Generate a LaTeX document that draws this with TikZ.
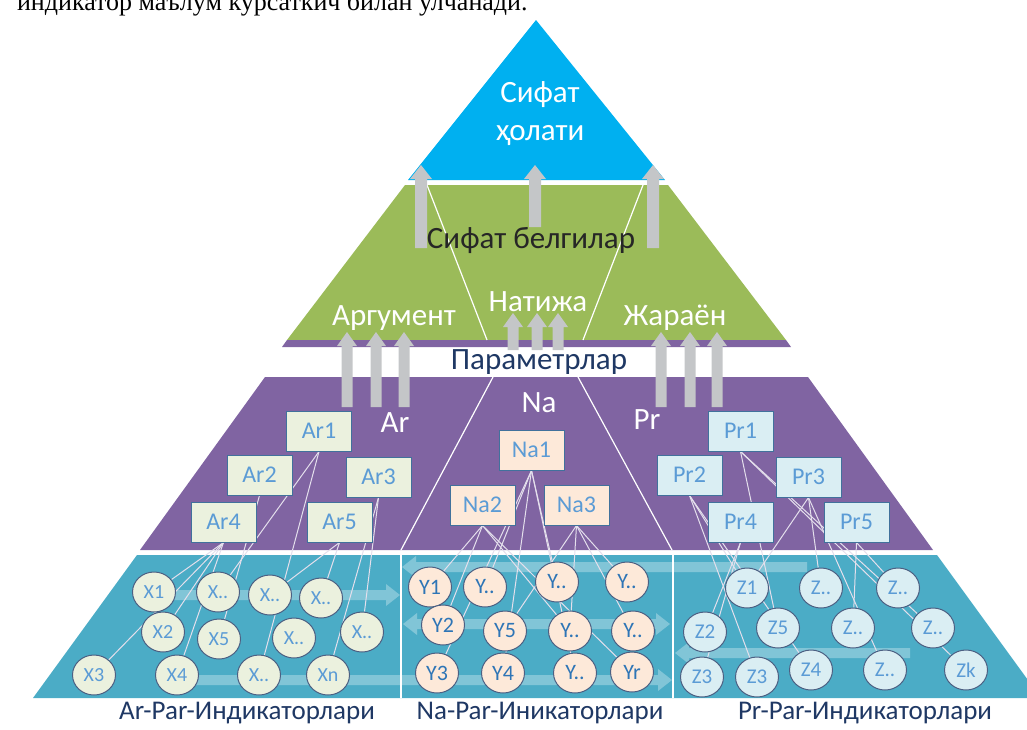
\documentclass[tikz,border=0pt]{standalone}
\usepackage{fontspec}
\setmainfont{Carlito}
\newfontfamily\introfont{Liberation Serif}
\usetikzlibrary{shapes.geometric}
\definecolor{topblue}{HTML}{00B0F0}
\definecolor{leafgreen}{HTML}{9BBB59}
\definecolor{parpurple}{HTML}{8064A2}
\definecolor{indteal}{HTML}{4BACC6}
\definecolor{boxedge}{HTML}{41719C}
\definecolor{boxtext}{HTML}{5B9BD5}
\definecolor{ytext}{HTML}{2E75B6}
\definecolor{navy}{HTML}{1F3864}
\definecolor{darktext}{HTML}{262626}
\definecolor{upgray}{HTML}{C4C6C8}
\definecolor{linklav}{HTML}{E4DFEC}
\definecolor{argfill}{HTML}{EBF1DE}
\definecolor{natfill}{HTML}{FDE9D9}
\definecolor{profill}{HTML}{DAEEF3}
\pgfdeclarelayer{bg}
\pgfsetlayers{bg,main}
\tikzset{basic/.style={draw=boxedge,line width=0.5pt,text=boxtext,inner sep=0pt,
                       font=\fontsize{12}{14}\selectfont}}
\tikzset{param/.style={basic,rectangle,minimum width=32.5pt,minimum height=20pt}}
\tikzset{indic/.style={basic,ellipse,draw=navy!80,minimum width=21.5pt,minimum height=20pt,
                       font=\fontsize{10}{12}\selectfont}}
\tikzset{link/.style={draw=linklav,line width=0.5pt}}
\tikzset{divide/.style={draw=white,line width=0.6pt}}
\tikzset{uparrow/.style={fill=upgray}}
\tikzset{flow/.style={fill=white,fill opacity=0.3}}
\tikzset{bigtext/.style={font=\fontsize{15.5}{18}\selectfont}}
\tikzset{foot/.style={text=navy,font=\fontsize{13.5}{16}\selectfont}}

\begin{document}
\begin{tikzpicture}[x=0.5pt,y=-0.5pt]
    \useasboundingbox (0,0) rectangle (1027,729);
    \node[anchor=base east,inner sep=0pt,font=\introfont\fontsize{13}{15}\selectfont] (intro)
        at (528,10) {индикатор маълум курсаткич билан улчанади.};

    % layers of the pyramid
    \begin{pgfonlayer}{bg}
    \fill[topblue] (536,20) -- (665,180) -- (408,180) -- cycle;
    \fill[leafgreen] (405,185) -- (668,185) -- (786,340) -- (287,340) -- cycle;
    \fill[parpurple] (287,340) -- (786,340) -- (791,347) -- (282,347) -- cycle;
    \fill[parpurple] (265,377) -- (808,377) -- (933,550) -- (140,550) -- cycle;
    \fill[indteal] (137,555) -- (937,555) -- (1041,698) -- (33,698) -- cycle;
    \draw[divide] (427,185) -- (487,340);
    \draw[divide] (643,185) -- (583,340);
    \draw[divide] (493,377) -- (401,550);
    \draw[divide] (578,377) -- (672,550);
    \draw[divide] (401,555) -- (401,698);
    \draw[divide] (673,555) -- (673,698);
    \foreach \xa/\xb/\hd/\yy in {173/400/14/595,190/672/14/680,807/402/-14/567,910/675/-14/653}{%
          \fill[flow] (\xa,\yy-5) -- (\xb-\hd,\yy-5) -- (\xb-\hd,\yy-11) -- (\xb,\yy)
             -- (\xb-\hd,\yy+11) -- (\xb-\hd,\yy+5) -- (\xa,\yy+5) -- cycle;
        }
    \fill[flow] (403,624) -- (417,613) -- (417,619) -- (656,619) -- (656,613) -- (670,624)
       -- (656,635) -- (656,629) -- (417,629) -- (417,635) -- cycle;
    \end{pgfonlayer}

    % grey arrows
    \foreach \x/\ya/\yb/\hw/\sw in {421/248/165/11/6,535/227/165/11/6,653/248/165/11/6,
          347/407/332/10/5.5,376/407/332/10/5.5,404/407/332/10/5.5,
          661/407/332/10/5.5,690/407/332/10/5.5,717/407/332/10/5.5,
          513/350/313/10/5.5,537/350/313/10/5.5,558/350/313/10/5.5}{%
          \fill[uparrow] (\x-\sw,\ya) -- (\x-\sw,\yb+14) -- (\x-\hw,\yb+14) -- (\x,\yb)
             -- (\x+\hw,\yb+14) -- (\x+\sw,\yb+14) -- (\x+\sw,\ya) -- cycle;
        }

    % Labels
    \node[white,align=center,font=\fontsize{15.5}{19}\selectfont] (state) at (540,114) {Сифат\\ҳолати};
    \node[bigtext,text=darktext] (signs) at (531,240) {Сифат белгилар};
    \node[bigtext,white] (arg) at (394,318) {Аргумент};
    \node[bigtext,white] (res) at (538,302) {Натижа};
    \node[bigtext,white] (proc) at (675,318) {Жараён};
    \node[bigtext,text=navy] (params) at (539,362) {Параметрлар};
    \node[bigtext,white] (ar) at (395,423) {Ar};
    \node[bigtext,white] (na) at (539,403) {Na};
    \node[bigtext,white] (pr) at (647,420) {Pr};

    % parameters
    \foreach \n/\x/\y in {1/319/431,2/259.5/475,3/378.5/477,4/223.5/522,5/339.5/522}{%
          \node[param,fill=argfill] (Ar\n) at (\x,\y) {Ar\n};
        }
    \foreach \n/\x/\y in {1/531.5/450,2/482.5/505,3/576.5/505}{%
          \node[param,fill=natfill] (Na\n) at (\x,\y) {Na\n};
        }
    \foreach \n/\x/\y in {1/740.5/431,2/689.5/475,3/808.5/477,4/740.5/522,5/856.5/522}{%
          \node[param,fill=profill] (Pr\n) at (\x,\y) {Pr\n};
        }

    % indicators
    \foreach \t/\x/\y [count=\i] in {X1/154/592,X../218/592,X../270/595,X../321/598,
          X2/163/632,X5/219/639,X../294/638,X../362/632,
          X3/94/675,X4/177/675,X../259/675,Xn/328/675}{%
          \node[indic,fill=argfill] (x\i) at (\x,\y) {\t};
        }
    \foreach \t/\x/\y [count=\i] in {Y1/430/587,Y../485/587,Y../557/582,Y../627/582,
          Y2/443/625,Y5/505/631,Y../570/631,Y../633/631,
          Y3/437/673,Y4/503/673,Y../575/673,Yr/632/672}{%
          \node[indic,fill=natfill,text=ytext,font=\fontsize{11}{13}\selectfont] (y\i) at (\x,\y) {\t};
        }
    \foreach \t/\x/\y [count=\i] in {Z1/747/588,Z../821/588,Z../898/588,
          Z2/705/632,Z5/778/628,Z../853/628,Z../933/628,
          Z3/702/677,Z3/757/677,Z4/811/670,Z../885/670,Zk/966/670}{%
          \node[indic,fill=profill,font=\fontsize{10.5}{12}\selectfont] (z\i) at (\x,\y) {\t};
        }

    % links from parameters to indicators
    \begin{pgfonlayer}{bg}
    \foreach \p/\c in {Ar4/x1,Ar4/x5,Ar4/x9,Ar4/x10,Ar2/x6,Ar1/x2,Ar1/x11,Ar3/x8,Ar3/x12,
          Ar5/x3,Ar5/x4,
          Na1/y9,Na1/y10,Na1/y3,Na1/y11,Na1/y2,Na2/y1,Na2/y5,Na2/y7,Na2/y12,
          Na3/y6,Na3/y7,Na3/y4,Na3/y8,
          Pr4/z4,Pr4/z8,Pr2/z1,Pr2/z9,Pr2/z10,Pr1/z5,Pr1/z7,Pr1/z12,
          Pr3/z1,Pr3/z2,Pr3/z11,Pr5/z6,Pr5/z3}{%
          \draw[link] (\p.south) -- (\c);
        }
    \end{pgfonlayer}

    \node[foot] (arfoot) at (247,713) {Ar-Par-Индикаторлари};
    \node[foot] (nafoot) at (540,713) {Na-Par-Иникаторлари};
    \node[foot] (prfoot) at (865,713) {Pr-Par-Индикаторлари};
\end{tikzpicture}
\end{document}
